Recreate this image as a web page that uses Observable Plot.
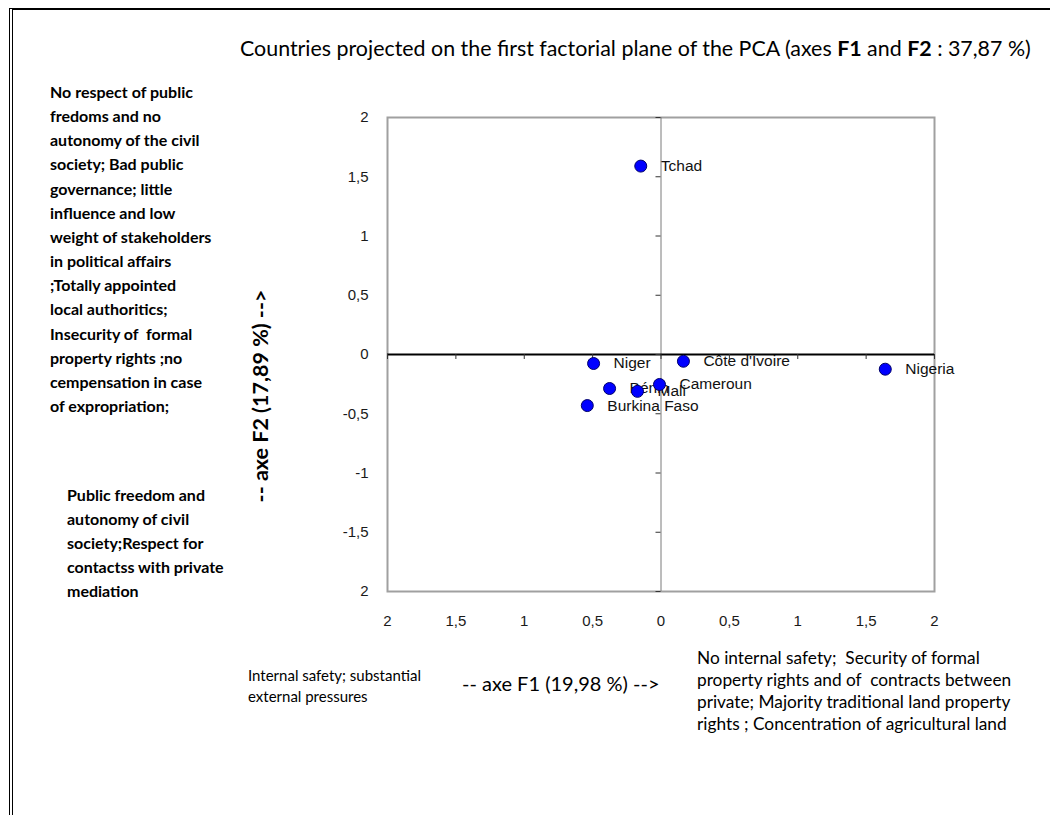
<!DOCTYPE html>
<html><head><meta charset="utf-8">
<script src="https://cdn.jsdelivr.net/npm/d3@7"></script>
<script src="https://cdn.jsdelivr.net/npm/@observablehq/plot@0.6"></script>
<style>
body{margin:0;background:#fff;}
#page{position:relative;width:1050px;height:815px;overflow:hidden;font-family:Lato,"Open Sans",sans-serif;color:#000;}
#chart{position:absolute;left:0;top:0;}
#border{position:absolute;left:9px;top:8px;width:1100px;height:900px;border-top:2px solid #000;border-left:4px double #000;}
.t{position:absolute;white-space:nowrap;}
#title{left:240px;top:35px;font-size:21.4px;}
#ylab{left:260px;top:396px;font-size:21.5px;font-weight:700;transform:translate(-50%,-50%) rotate(-90deg);}
#xlab{left:462px;top:671px;font-size:20px;}
#leftTop{left:50px;top:80px;font-size:16px;line-height:24.15px;font-weight:700;}
#leftBot{left:67px;top:483px;font-size:16px;line-height:24px;font-weight:700;}
#botLeft{left:248px;top:665px;font-size:15px;line-height:21px;}
#botRight{left:697px;top:647px;font-size:17.3px;line-height:22px;}
</style></head>
<body>
<div id="page">
<div id="chart"></div>
<div id="border"></div>
<div class="t" id="title">Countries projected on the first factorial plane of the PCA (axes <b>F1</b> and <b>F2</b> : 37,87 %)</div>
<div class="t" id="ylab">-- axe F2 (17,89 %) --&gt;</div>
<div class="t" id="xlab">-- axe F1 (19,98 %) --&gt;</div>
<div class="t" id="leftTop">No respect of public<br>fredoms and no<br>autonomy of the civil<br>society; Bad public<br>governance; little<br>influence and low<br>weight of stakeholders<br>in political affairs<br>;Totally appointed<br>local authoritics;<br>Insecurity of &nbsp;formal<br>property rights ;no<br>cempensation in case<br>of expropriation;</div>
<div class="t" id="leftBot">Public freedom and<br>autonomy of civil<br>society;Respect for<br>contactss with private<br>mediation</div>
<div class="t" id="botLeft">Internal safety; substantial<br>external pressures</div>
<div class="t" id="botRight">No internal safety; &nbsp;Security of formal<br>property rights and of &nbsp;contracts between<br>private; Majority traditional land property<br>rights ; Concentration of agricultural land</div>
</div>
<script>
const countries = ["Tchad", "Niger", "Côte d'Ivoire", "Nigeria", "Bénin", "Mali", "Cameroun", "Burkina Faso"];
const f1 = [-0.148, -0.493, 0.164, 1.64, -0.376, -0.172, -0.011, -0.539];
const f2 = [1.59, -0.076, -0.057, -0.124, -0.287, -0.311, -0.253, -0.431];
const xTicks = [-2, -1.5, -1, -0.5, 0, 0.5, 1, 1.5, 2];
const xTickLabels = ["2", "1,5", "1", "0,5", "0", "0,5", "1", "1,5", "2"];
const yTicks = [-2, -1.5, -1, -0.5, 0, 0.5, 1, 1.5, 2];
const yTickLabels = ["2", "-1,5", "-1", "-0,5", "0", "0,5", "1", "1,5", "2"];

const data = countries.map((c, i) => ({country: c, f1: f1[i], f2: f2[i]}));
const font = "'Liberation Sans', Arial, sans-serif";

const chart = Plot.plot({
  width: 1050,
  height: 815,
  marginLeft: 387,
  marginRight: 116,
  marginTop: 117,
  marginBottom: 224,
  style: {background: "none", fontFamily: font, fontSize: "15px", color: "#1a1a1a"},
  x: {domain: [-2, 2], nice: false},
  y: {domain: [-2, 2], nice: false},
  marks: [
    Plot.frame({stroke: "#a0a0a0", strokeWidth: 2}),
    Plot.axisX({ticks: xTicks, tickSize: 0, tickPadding: 24, tickFormat: d => xTickLabels[xTicks.indexOf(d)], label: null, fontSize: 15}),
    Plot.axisY({ticks: yTicks, tickSize: 0, tickPadding: 19, tickFormat: d => yTickLabels[yTicks.indexOf(d)], label: null, fontSize: 15}),
    Plot.text(data, {x: "f1", y: "f2", text: "country", dx: 20, textAnchor: "start", fontSize: 15.5, fill: "#111", fontFamily: font}),
    Plot.ruleX([0], {stroke: "#7a7a7a", strokeWidth: 1}),
    Plot.ruleY([0], {stroke: "#000", strokeWidth: 2}),
    Plot.ruleX(xTicks, {y1: 0, y2: 0, insetBottom: -5, stroke: "#333", strokeWidth: 1}),
    Plot.ruleY(yTicks, {x1: 0, x2: 0, insetLeft: -5, stroke: "#333", strokeWidth: 1}),
    Plot.dot(data, {x: "f1", y: "f2", r: 6, fill: "#0000ff", stroke: "#00006a", strokeWidth: 1})
  ]
});
document.getElementById("chart").appendChild(chart);
</script>
</body></html>
